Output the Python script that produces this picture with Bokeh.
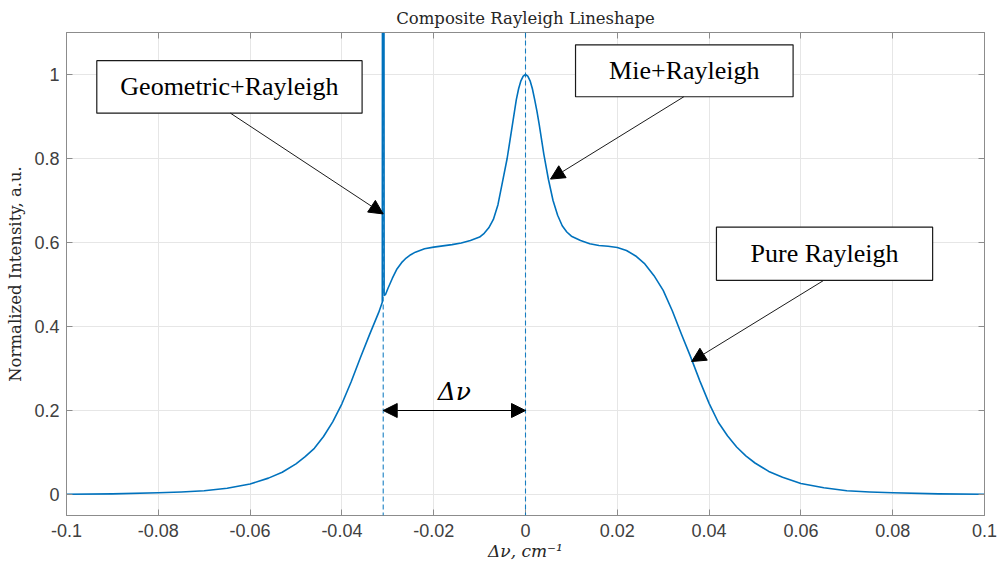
from bokeh.plotting import figure
from bokeh.models import (Range1d, LinearAxis, FixedTicker, Span, Arrow, NormalHead,
                          Label, ColumnDataSource)
from bokeh.core.properties import value
from bokeh.embed import file_html
from bokeh.resources import INLINE

# ---- data ----
x_vals = [-0.1, -0.09, -0.08, -0.075, -0.07, -0.065, -0.06, -0.056, -0.053, -0.05,
          -0.048, -0.046, -0.044, -0.042, -0.04, -0.038, -0.036, -0.034, -0.032,
          -0.0312, -0.03115, -0.03085, -0.0308,
          -0.0305, -0.03, -0.029, -0.028, -0.027, -0.026, -0.025, -0.024, -0.022,
          -0.02, -0.018, -0.016, -0.014, -0.012, -0.01, -0.009, -0.008, -0.007,
          -0.006, -0.005, -0.004, -0.003, -0.0025, -0.002, -0.0015, -0.001, -0.0005, 0.0,
          0.0005, 0.001, 0.0015, 0.002, 0.0025, 0.003, 0.004, 0.005, 0.006, 0.007,
          0.008, 0.009, 0.01,
          0.012, 0.014, 0.016, 0.018, 0.02, 0.022, 0.024, 0.026, 0.028, 0.03,
          0.032, 0.034, 0.036, 0.038, 0.04, 0.042, 0.044, 0.046, 0.048, 0.05,
          0.053, 0.056, 0.06, 0.065, 0.07, 0.075, 0.08, 0.09, 0.1]
y_vals = [0.0005, 0.0015, 0.004, 0.006, 0.009, 0.015, 0.025, 0.039, 0.053, 0.073,
          0.09, 0.11, 0.138, 0.173, 0.216, 0.268, 0.325, 0.38, 0.433,
          0.458, 1.5, 1.5, 0.474,
          0.476, 0.49, 0.515, 0.537, 0.552, 0.563, 0.571, 0.577, 0.585,
          0.589, 0.592, 0.595, 0.599, 0.605, 0.613, 0.622, 0.635, 0.655,
          0.69, 0.745, 0.8, 0.87, 0.905, 0.94, 0.966, 0.985, 0.996, 1.0,
          0.996, 0.985, 0.966, 0.94, 0.912, 0.88, 0.81, 0.75, 0.7, 0.665,
          0.64, 0.625, 0.615,
          0.605, 0.597, 0.593, 0.591, 0.588, 0.581, 0.568, 0.549, 0.521, 0.486,
          0.437, 0.381, 0.327, 0.27, 0.217, 0.172, 0.14, 0.113, 0.092, 0.075,
          0.055, 0.041, 0.026, 0.016, 0.009, 0.006, 0.004, 0.0015, 0.0005]

x_ticks = [-0.1, -0.08, -0.06, -0.04, -0.02, 0.0, 0.02, 0.04, 0.06, 0.08, 0.1]
x_tick_labels = ["-0.1", "-0.08", "-0.06", "-0.04", "-0.02", "0", "0.02", "0.04",
                 "0.06", "0.08", "0.1"]
y_ticks = [0.0, 0.2, 0.4, 0.6, 0.8, 1.0]
y_tick_labels = ["0", "0.2", "0.4", "0.6", "0.8", "1"]

marker_x = [-0.031, 0.0]          # dashed reference lines
delta_y = 0.2                      # height of the Δν arrow
delta_label = "Δν"

box_texts = ["Geometric+Rayleigh", "Mie+Rayleigh", "Pure Rayleigh"]
box_left = [-0.0934, 0.0109, 0.0416]
box_right = [-0.0356, 0.0583, 0.0887]
box_top = [1.033, 1.0706, 0.6366]
box_bottom = [0.908, 0.947, 0.510]
arrow_start_x = [-0.0643, 0.0345, 0.065]
arrow_end_x = [-0.0310, 0.00545, 0.0362]
arrow_end_y = [0.668, 0.751, 0.3166]

# ---- figure ----
BLUE = "#0072BD"
AXC = "#8c8c8c"
TXT = "#404040"

p = figure(width=997, height=564, x_range=Range1d(-0.1, 0.1), y_range=Range1d(-0.05, 1.1),
           output_backend="svg", toolbar_location=None,
           min_border_left=66, min_border_right=13, min_border_top=32, min_border_bottom=49)
p.background_fill_color = "white"
p.border_fill_color = "white"
p.outline_line_color = AXC
p.outline_line_width = 1

p.title.text = "Composite Rayleigh Lineshape"
p.title.align = "center"
p.title.text_font = "DejaVu Serif"
p.title.text_font_size = "16.5px"
p.title.text_font_style = "normal"
p.title.text_color = "#262626"

for ax in (p.xaxis[0], p.yaxis[0]):
    ax.major_tick_in = 6
    ax.major_tick_out = 0
    ax.minor_tick_line_color = None
    ax.axis_line_color = AXC
    ax.major_tick_line_color = AXC
    ax.major_label_text_font = "Liberation Sans"
    ax.major_label_text_font_size = "18px"
    ax.major_label_text_color = TXT
    ax.axis_label_text_color = "#262626"
    ax.axis_label_text_font_style = "normal"

p.xaxis.ticker = FixedTicker(ticks=x_ticks)
p.xaxis.major_label_overrides = {t: l for t, l in zip(x_ticks, x_tick_labels)}
p.yaxis.ticker = FixedTicker(ticks=y_ticks)
p.yaxis.major_label_overrides = {t: l for t, l in zip(y_ticks, y_tick_labels)}
p.xaxis.major_label_standoff = 8
p.yaxis.major_label_standoff = 7

p.xaxis.axis_label = "Δν, cm⁻¹"
p.xaxis.axis_label_text_font = "DejaVu Serif"
p.xaxis.axis_label_text_font_style = "italic"
p.xaxis.axis_label_text_font_size = "17px"
p.xaxis.axis_label_standoff = 1
p.yaxis.axis_label = "Normalized Intensity, a.u."
p.yaxis.axis_label_text_font = "DejaVu Serif"
p.yaxis.axis_label_text_font_size = "16.5px"
p.yaxis.axis_label_standoff = 6

for loc, tks in (("above", x_ticks), ("right", y_ticks)):
    ax = LinearAxis(ticker=FixedTicker(ticks=tks), major_tick_in=6, major_tick_out=0,
                    minor_tick_line_color=None, axis_line_color=AXC,
                    major_tick_line_color=AXC, major_label_text_font_size="0px",
                    major_label_text_color=None, major_label_standoff=0)
    p.add_layout(ax, loc)

p.xgrid.ticker = FixedTicker(ticks=x_ticks)
p.ygrid.ticker = FixedTicker(ticks=y_ticks)
p.grid.grid_line_color = "#e6e6e6"
p.grid.grid_line_width = 1

# curve
src = ColumnDataSource(dict(x=x_vals, y=y_vals))
p.line("x", "y", source=src, line_color=BLUE, line_width=1.6, line_join="round")

# dashed markers
for mx in marker_x:
    p.add_layout(Span(location=mx, dimension="height", line_color=BLUE,
                      line_width=1.1, line_dash="5 3", line_alpha=0.9))

# Δν double arrow
p.add_layout(Arrow(x_start=marker_x[1], y_start=delta_y, x_end=marker_x[0], y_end=delta_y,
                   line_color="black", line_width=1.2,
                   start=NormalHead(size=14, fill_color="black", line_color="black"),
                   end=NormalHead(size=14, fill_color="black", line_color="black")))
p.add_layout(Label(x=(marker_x[0] + marker_x[1]) / 2, y=delta_y + 0.045, text=delta_label,
                   text_align="center", text_baseline="middle", text_font="DejaVu Serif",
                   text_font_style="italic", text_font_size="25px", text_color="black"))

# annotation boxes
bsrc = ColumnDataSource(dict(left=box_left, right=box_right, top=box_top, bottom=box_bottom,
                             cx=[(a + b) / 2 for a, b in zip(box_left, box_right)],
                             cy=[(a + b) / 2 for a, b in zip(box_top, box_bottom)],
                             text=box_texts))
p.quad(left="left", right="right", top="top", bottom="bottom", source=bsrc,
       fill_color="white", line_color="#1a1a1a", line_width=1.2)
p.text(x="cx", y="cy", text="text", source=bsrc, text_align="center",
       text_baseline="middle", text_font=value("Liberation Serif"),
       text_font_size="26px", text_color="black")

for sx, sy, ex, ey in zip(arrow_start_x, box_bottom, arrow_end_x, arrow_end_y):
    p.add_layout(Arrow(x_start=sx, y_start=sy, x_end=ex, y_end=ey,
                       line_color="#1a1a1a", line_width=1,
                       end=NormalHead(size=14, fill_color="black", line_color="black")))

open("out.html", "w").write(file_html(p, INLINE))
